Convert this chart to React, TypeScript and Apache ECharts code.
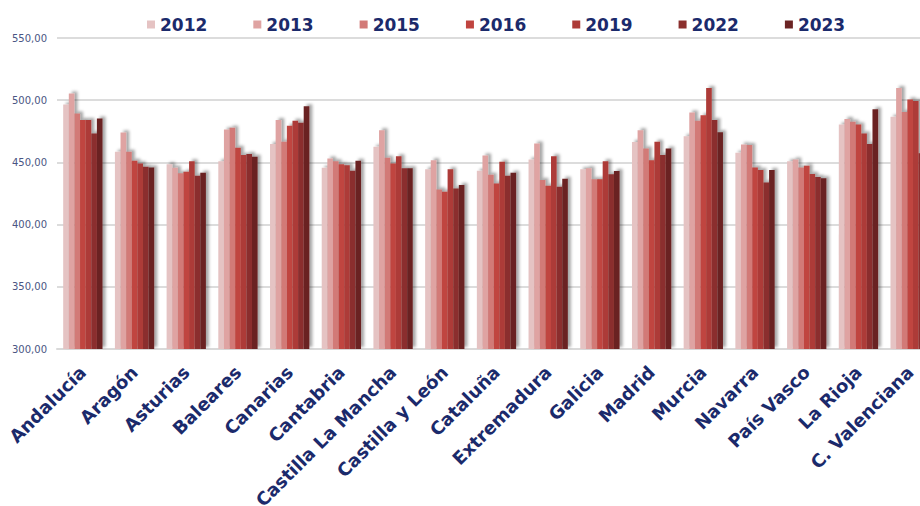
import React, { useEffect, useRef } from "react";
import * as echarts from "echarts";

const regions = [
  "Andalucía", "Aragón", "Asturias", "Baleares", "Canarias", "Cantabria",
  "Castilla La Mancha", "Castilla y León", "Cataluña", "Extremadura", "Galicia",
  "Madrid", "Murcia", "Navarra", "País Vasco", "La Rioja", "C. Valenciana",
];

const years = ["2012", "2013", "2015", "2016", "2019", "2022", "2023"];

const v2012 = [496.5, 458.5, 448.6, 451, 464.7, 445.7, 462.5, 444.4, 443.3, 452.4, 444.4, 466.3, 471.1, 457.7, 451, 480.5, 486.6];
const v2013 = [505.4, 474, 445.7, 476.5, 484, 453.2, 475.9, 451.8, 455.6, 465.2, 445.2, 475.9, 490.1, 464.4, 452.4, 484.8, 509.9];
const v2015 = [489.3, 458.5, 441.2, 477.8, 466.6, 451, 453.7, 428.3, 440, 435.8, 436.4, 461.2, 483.4, 463.9, 446, 482.6, 490.6];
const v2016 = [484, 451.3, 442.5, 461.7, 479.4, 448.6, 449.2, 426.4, 433.1, 431.2, 436.4, 451.8, 488, 446, 447.3, 480.5, 500.5];
const v2019 = [484, 449.2, 451, 455.9, 483.4, 447.8, 455, 444.4, 450.5, 455, 451, 466.6, 509.9, 443.8, 440.6, 473.2, 499.4];
const v2022 = [473.2, 446.5, 439.3, 456.7, 481.8, 443.3, 445.2, 429.1, 439.3, 430.4, 440.4, 455.9, 484, 433.9, 438.2, 464.7, 457.4];
const v2023 = [485.3, 446, 441.7, 454.5, 495.2, 451.3, 445.2, 431.8, 441.7, 436.8, 443, 461.2, 474.3, 443.8, 437.2, 492.8, 467];

const seriesValues = [v2012, v2013, v2015, v2016, v2019, v2022, v2023];
const colors = ["#e5c3c3", "#dfa3a2", "#d27a77", "#c0443f", "#ad3b37", "#8b2f2d", "#6b2424"];

const yTicks = { min: 300, max: 550, interval: 50 };

export default function App() {
  const ref = useRef<HTMLDivElement>(null);
  useEffect(() => {
    document.body.style.margin = "0";
    document.body.style.overflow = "hidden";
    const chart = echarts.init(ref.current!, null, { renderer: "svg" });
    chart.setOption({
      animation: false,
      backgroundColor: "#ffffff",
      legend: {
        left: 142,
        top: 11,
        itemWidth: 8,
        itemHeight: 8,
        itemGap: 46,
        icon: "rect",
        data: years,
        textStyle: {
          fontFamily: "DejaVu Sans",
          fontWeight: "bold",
          fontSize: 17,
          color: "#1b2a6b",
        },
      },
      grid: {
        left: 57,
        right: -16,
        top: 38,
        bottom: 157,
        containLabel: false,
        outerBoundsMode: "none",
      },
      xAxis: {
        type: "category",
        data: regions,
        axisTick: { show: false },
        axisLine: { lineStyle: { color: "#d9d9d9", width: 2 } },
        axisLabel: {
          interval: 0,
          rotate: 45,
          margin: 20,
          fontFamily: "DejaVu Sans",
          fontWeight: "bold",
          fontSize: 18,
          color: "#1b2a6b",
        },
      },
      yAxis: {
        type: "value",
        min: yTicks.min,
        max: yTicks.max,
        interval: yTicks.interval,
        axisLine: { show: false },
        axisTick: { show: false },
        splitLine: { lineStyle: { color: "#dcdcdc", width: 2 } },
        axisLabel: {
          margin: 10,
          fontFamily: "DejaVu Sans",
          fontSize: 10,
          color: "#4a5583",
          formatter: (v: number) => v.toFixed(2).replace(".", ","),
        },
      },
      series: years.map((y, i) => ({
        name: y,
        type: "bar",
        data: seriesValues[i],
        barGap: "0%",
        barCategoryGap: "24%",
        itemStyle: {
          color: colors[i],
          shadowColor: "rgba(0,0,0,0.35)",
          shadowBlur: 3,
          shadowOffsetX: 3,
          shadowOffsetY: -2,
        },
      })),
    });
    return () => chart.dispose();
  }, []);
  return <div ref={ref} style={{ width: 920, height: 506 }} />;
}
